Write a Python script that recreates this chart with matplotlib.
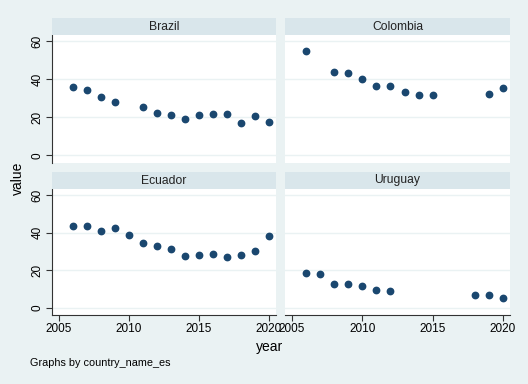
import matplotlib
matplotlib.use("Agg")
import matplotlib.pyplot as plt

plt.rcParams["font.family"] = ["Liberation Sans", "DejaVu Sans"]

BG = "#eaf2f3"
STRIP = "#d9e6eb"
NAVY = "#1a476f"

countries = ["Brazil", "Colombia", "Ecuador", "Uruguay"]

brazil_years = [2006, 2007, 2008, 2009, 2011, 2012, 2013, 2014, 2015, 2016, 2017, 2018, 2019, 2020]
brazil_values = [36.1, 34.5, 30.8, 28.0, 25.4, 22.3, 21.2, 19.3, 21.4, 21.9, 21.7, 17.0, 20.7, 17.7]

colombia_years = [2006, 2008, 2009, 2010, 2011, 2012, 2013, 2014, 2015, 2019, 2020]
colombia_values = [54.9, 44.0, 43.5, 40.3, 36.6, 36.6, 33.5, 31.7, 31.7, 32.3, 35.3]

ecuador_years = [2006, 2007, 2008, 2009, 2010, 2011, 2012, 2013, 2014, 2015, 2016, 2017, 2018, 2019, 2020]
ecuador_values = [43.8, 43.3, 40.7, 42.4, 38.8, 34.5, 32.6, 31.2, 27.7, 28.1, 28.6, 27.0, 28.2, 30.3, 38.0]

uruguay_years = [2006, 2007, 2008, 2009, 2010, 2011, 2012, 2018, 2019, 2020]
uruguay_values = [18.6, 18.1, 12.4, 12.8, 11.4, 9.3, 8.6, 6.5, 6.6, 4.9]

series = [(brazil_years, brazil_values), (colombia_years, colombia_values),
          (ecuador_years, ecuador_values), (uruguay_years, uruguay_values)]

y_ticks = [0, 20, 40, 60]
x_ticks = [2005, 2010, 2015, 2020]

W, H = 528, 384
fig = plt.figure(figsize=(W / 100, H / 100), dpi=100, facecolor=BG)

# pixel boxes: (left, right) columns, (strip_top, plot_top, plot_bottom) rows
cols = [(52, 276), (285, 510)]
rows = [(18, 35, 163), (172, 189, 315)]

for i, (name, (xs, ys)) in enumerate(zip(countries, series)):
    r, c = divmod(i, 2)
    x0, x1 = cols[c]
    s_top, p_top, p_bot = rows[r]

    ax = fig.add_axes([x0 / W, 1 - p_bot / H, (x1 - x0) / W, (p_bot - p_top) / H])
    ax.set_facecolor("white")
    ax.plot(xs, ys, "o", color=NAVY, ms=4.6, mec=NAVY, zorder=3)
    ax.set_xlim(2004.5, 2020.5)
    ax.set_ylim(-4.0, 63.3)
    ax.set_yticks(y_ticks)
    ax.set_xticks(x_ticks)
    ax.grid(axis="y", color=BG, lw=1.0)
    for side in ["top", "right"]:
        ax.spines[side].set_visible(False)
    ax.spines["left"].set_visible(c == 0)
    ax.spines["bottom"].set_visible(r == 1)
    for side in ["left", "bottom"]:
        ax.spines[side].set_color("#333333")
        ax.spines[side].set_linewidth(0.8)
    ax.tick_params(axis="y", left=(c == 0), labelleft=(c == 0), length=4,
                   color="#333333", labelsize=8.5, pad=2)
    ax.tick_params(axis="x", bottom=(r == 1), labelbottom=(r == 1), length=4,
                   color="#333333", labelsize=8.5, pad=2)
    for lab in ax.get_yticklabels():
        lab.set_rotation(90)
        lab.set_va("center")

    sax = fig.add_axes([x0 / W, 1 - p_top / H, (x1 - x0) / W, (p_top - s_top) / H])
    sax.set_facecolor(STRIP)
    sax.set_xticks([])
    sax.set_yticks([])
    for sp in sax.spines.values():
        sp.set_visible(False)
    sax.text(0.5, 0.5, name, ha="center", va="center", fontsize=8.7,
             color="#222222", transform=sax.transAxes)

fig.text(18 / W, 1 - 178 / H, "value", rotation=90, ha="center", va="center", fontsize=10)
fig.text(270 / W, 1 - 347 / H, "year", ha="center", va="center", fontsize=10)
fig.text(30 / W, 1 - 363 / H, "Graphs by country_name_es", ha="left", va="center", fontsize=7.8)

fig.savefig("out.png", dpi=100, facecolor=BG)
